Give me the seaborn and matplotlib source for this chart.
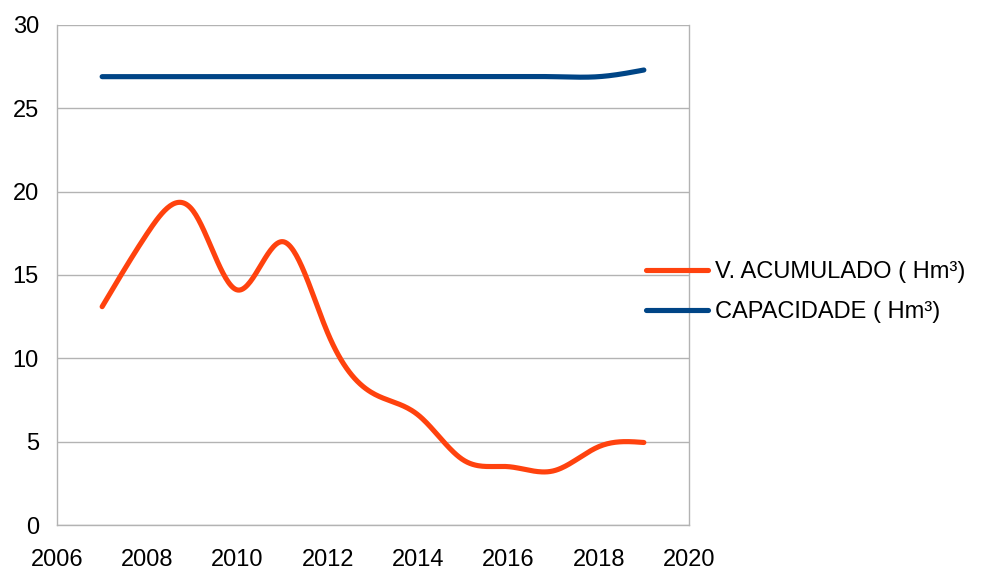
import numpy as np
import pandas as pd
import matplotlib
matplotlib.use("Agg")
import matplotlib.pyplot as plt
import seaborn as sns

years = [2007, 2008, 2009, 2010, 2011, 2012, 2013, 2014, 2015, 2016, 2017, 2018, 2019]
v_acumulado = [13.1, 17.5, 18.9, 14.1, 17.0, 11.5, 7.9, 6.6, 3.9, 3.5, 3.25, 4.7, 4.95]
capacidade = [26.9, 26.9, 26.9, 26.9, 26.9, 26.9, 26.9, 26.9, 26.9, 26.9, 26.9, 26.9, 27.3]
series_names = ["V. ACUMULADO ( Hm³)", "CAPACIDADE ( Hm³)"]
colors = ["#ff420e", "#004586"]


def natural_spline(x, y, n=400):
    x = np.asarray(x, float)
    y = np.asarray(y, float)
    k = len(x)
    h = np.diff(x)
    A = np.zeros((k, k))
    b = np.zeros(k)
    A[0, 0] = 1
    A[-1, -1] = 1
    for i in range(1, k - 1):
        A[i, i - 1] = h[i - 1]
        A[i, i] = 2 * (h[i - 1] + h[i])
        A[i, i + 1] = h[i]
        b[i] = 6 * ((y[i + 1] - y[i]) / h[i] - (y[i] - y[i - 1]) / h[i - 1])
    M = np.linalg.solve(A, b)
    xs = np.linspace(x[0], x[-1], n)
    idx = np.clip(np.searchsorted(x, xs) - 1, 0, k - 2)
    x0, x1 = x[idx], x[idx + 1]
    hh = x1 - x0
    ys = (M[idx] * (x1 - xs) ** 3 / (6 * hh) + M[idx + 1] * (xs - x0) ** 3 / (6 * hh)
          + (y[idx] / hh - M[idx] * hh / 6) * (x1 - xs)
          + (y[idx + 1] / hh - M[idx + 1] * hh / 6) * (xs - x0))
    return xs, ys


frames = []
for name, vals in zip(series_names, [v_acumulado, capacidade]):
    xs, ys = natural_spline(years, vals)
    frames.append(pd.DataFrame({"x": xs, "y": ys, "serie": name}))
df = pd.concat(frames, ignore_index=True)

sns.set_style("white")
plt.rcParams['font.family'] = ['Liberation Sans', 'DejaVu Sans']
plt.rcParams['text.color'] = 'black'

fig = plt.figure(figsize=(9.95, 5.72), dpi=100)
ax = fig.add_axes([57 / 995, 1 - 525 / 572, (689 - 57) / 995, (525 - 25) / 572])

sns.lineplot(data=df, x="x", y="y", hue="serie", palette=colors,
             hue_order=series_names, linewidth=3.7, ax=ax, sort=False,
             estimator=None)

ax.set_xlim(2006, 2020)
ax.set_ylim(0, 30)
ax.set_xticks(range(2006, 2021, 2))
ax.set_yticks(range(0, 31, 5))
ax.grid(axis="y", color="#b3b3b3", linewidth=1)
ax.grid(axis="x", visible=False)
ax.set_axisbelow(True)
for s in ["left", "bottom", "right"]:
    ax.spines[s].set_color("#b3b3b3")
    ax.spines[s].set_linewidth(1)
ax.spines["top"].set_visible(False)
ax.tick_params(axis="both", direction="out", length=8, width=1, color="#b3b3b3",
               labelsize=17, labelcolor="black")
ax.tick_params(axis="y", pad=5)
ax.tick_params(axis="x", pad=9)
ax.set_xlabel("")
ax.set_ylabel("")

handles, labels = ax.get_legend_handles_labels()
leg = ax.legend(handles, labels, loc="center left", bbox_to_anchor=(625 / 995, 1 - 292 / 572),
                bbox_transform=fig.transFigure, frameon=False, fontsize=17,
                handlelength=2.6, handletextpad=0.3, labelspacing=0.75)
for line in leg.get_lines():
    line.set_linewidth(3.7)
for t in leg.get_texts():
    t.set_color("black")

fig.savefig("out.png", dpi=100)
